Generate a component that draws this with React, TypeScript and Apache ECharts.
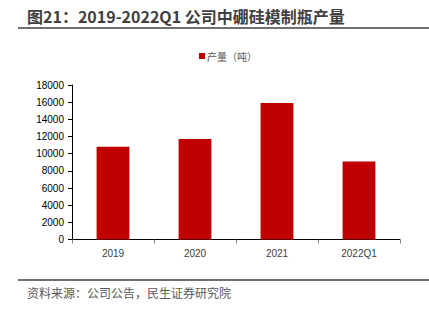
import React, { useEffect, useRef } from "react";
import * as echarts from "echarts";

const categories = ["2019", "2020", "2021", "2022Q1"];
const production = [10800, 11700, 15900, 9100];
const seriesName = "产量（吨）";
const titleText = "图21：2019-2022Q1 公司中硼硅模制瓶产量";
const sourceText = "资料来源：公司公告，民生证券研究院";

export default function App() {
  const ref = useRef<HTMLDivElement>(null);
  useEffect(() => {
    if (!ref.current) return;
    const chart = echarts.init(ref.current, null, { renderer: "svg" });
    const font = '"Microsoft YaHei", "Noto Sans CJK SC", sans-serif';
    const numFont = '"Liberation Sans", Arial, sans-serif';
    chart.setOption({
      animation: false,
      textStyle: { fontFamily: font },
      graphic: [
        {
          type: "text",
          left: 27,
          top: 8,
          style: { text: titleText, font: `bold 16px ${font}`, fill: "#404040" },
        },
        {
          type: "line",
          shape: { x1: 18, y1: 28, x2: 429, y2: 28 },
          style: { stroke: "#404040", lineWidth: 1.5 },
        },
        {
          type: "line",
          shape: { x1: 18, y1: 280, x2: 429, y2: 280 },
          style: { stroke: "#404040", lineWidth: 1.5 },
        },
        {
          type: "text",
          left: 27,
          top: 286,
          style: { text: sourceText, font: `12px ${font}`, fill: "#595959" },
        },
      ],
      legend: {
        top: 46,
        left: 194,
        itemWidth: 6,
        itemHeight: 6,
        itemGap: 2,
        icon: "rect",
        textStyle: { fontSize: 10, color: "#595959", padding: [0, 0, 0, -3] },
        data: [seriesName],
      },
      grid: { left: 72, right: 29, top: 85, bottom: 82.5 },
      xAxis: {
        type: "category",
        data: categories,
        axisLine: { lineStyle: { color: "#000", width: 1 } },
        axisTick: { show: true, length: 4, lineStyle: { color: "#808080" } },
        axisLabel: { color: "#404040", fontSize: 10, margin: 9, fontFamily: numFont },
      },
      yAxis: {
        type: "value",
        min: 0,
        max: 18000,
        interval: 2000,
        axisLine: { show: true, lineStyle: { color: "#000", width: 1 } },
        axisTick: { show: true, length: 4, lineStyle: { color: "#000" } },
        splitLine: { show: false },
        axisLabel: {
          color: "#000",
          fontSize: 10,
          margin: 8,
          fontFamily: numFont,
          formatter: (v: number) => String(v),
        },
      },
      series: [
        {
          name: seriesName,
          type: "bar",
          data: production,
          barWidth: "40%",
          itemStyle: { color: "#C00000" },
        },
      ],
    });
    return () => chart.dispose();
  }, []);
  return <div ref={ref} style={{ width: 429, height: 322, position: "absolute", left: 0, top: 0 }} />;
}
